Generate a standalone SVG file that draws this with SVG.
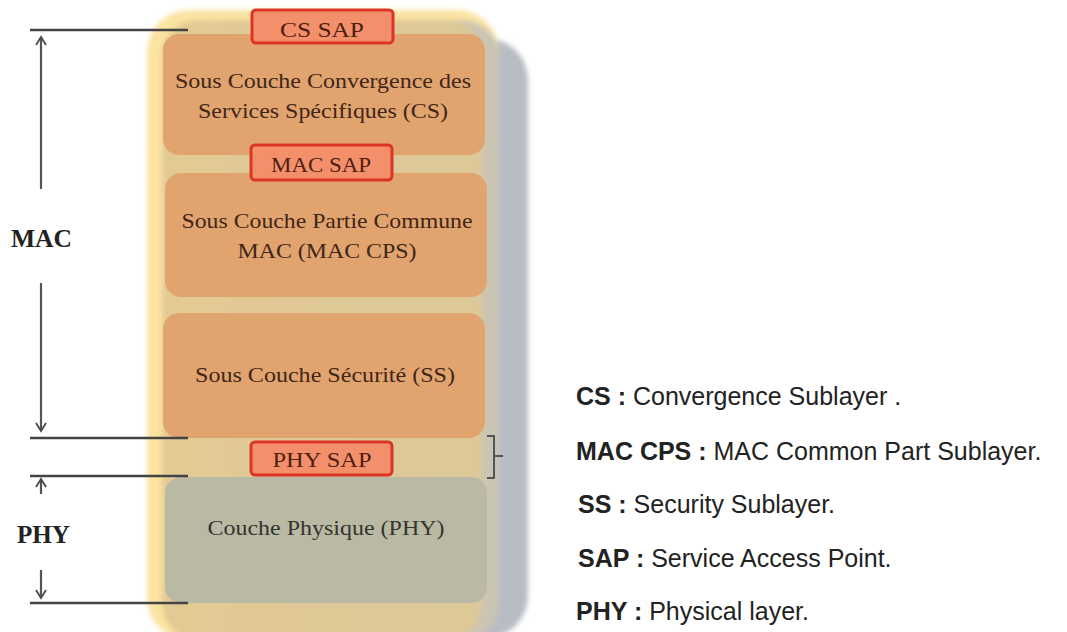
<svg xmlns="http://www.w3.org/2000/svg" width="1067" height="632" viewBox="0 0 1067 632">
  <defs>
    <filter id="soft" x="-5%" y="-5%" width="110%" height="110%">
      <feGaussianBlur stdDeviation="2.5"/>
    </filter>
    <linearGradient id="edge" x1="0" y1="0" x2="1" y2="0">
      <stop offset="0" stop-color="#f3d692"/>
      <stop offset="1" stop-color="#c9c4b4"/>
    </linearGradient>
    <!-- open chevron arrowhead, tip on the line end -->
    <marker id="chev" viewBox="0 0 12 12" refX="10" refY="6" markerWidth="12" markerHeight="12" markerUnits="userSpaceOnUse" orient="auto">
      <path d="M2,1 L10,6 L2,11" fill="none" stroke="#4a4a4a" stroke-width="1.8"/>
    </marker>
    <style>
      .layer { stroke: none; }
      .orange { fill: #e2a46e; }
      .phy { fill: #bab9a3; }
      .sap { fill: #f48f6c; stroke: #dc3526; stroke-width: 3; }
      .serif { font-family: "Liberation Serif", "Times New Roman", serif; text-anchor: middle; }
      .box-text { font-size: 22px; fill: #3f2618; }
      .phy-text { font-size: 22px; fill: #35352f; }
      .sap-text { font-size: 22px; fill: #4e1e10; }
      .side { font-family: "Liberation Serif", "Times New Roman", serif; font-size: 25px; font-weight: bold; fill: #222; }
      .guide { stroke: #444; stroke-width: 2.5; fill: none; }
      .arrow { stroke: #555; stroke-width: 2.2; fill: none; }
      .legend { font-family: "Liberation Sans", Arial, sans-serif; font-size: 25px; fill: #222; }
      .legend tspan.key { font-weight: bold; }
    </style>
  </defs>

  <rect width="1067" height="632" fill="#ffffff"/>

  <!-- stacked container with drop shadow -->
  <g id="container" filter="url(#soft)">
    <rect x="175" y="38" width="353" height="600" rx="42" fill="#b8bcc3"/>
    <rect x="147" y="10" width="352" height="630" rx="42" fill="#fbe3a2"/>
    <rect x="162" y="20" width="337" height="620" rx="36" fill="url(#edge)"/>
    <rect x="162" y="20" width="320" height="620" rx="36" fill="#dfc894" opacity="0.85"/>
  </g>

  <!-- CS sublayer -->
  <g id="cs-layer">
    <rect class="layer orange" x="163" y="34" width="322" height="121" rx="16"/>
    <text class="serif box-text" x="323" y="88" textLength="296" lengthAdjust="spacingAndGlyphs">Sous Couche Convergence des</text>
    <text class="serif box-text" x="323" y="118" textLength="250" lengthAdjust="spacingAndGlyphs">Services Spécifiques (CS)</text>
  </g>

  <!-- MAC common part sublayer -->
  <g id="mac-cps-layer">
    <rect class="layer orange" x="165" y="173" width="322" height="124" rx="16"/>
    <text class="serif box-text" x="327" y="228" textLength="291" lengthAdjust="spacingAndGlyphs">Sous Couche Partie Commune</text>
    <text class="serif box-text" x="327" y="258" textLength="179" lengthAdjust="spacingAndGlyphs">MAC (MAC CPS)</text>
  </g>

  <!-- security sublayer -->
  <g id="ss-layer">
    <rect class="layer orange" x="163" y="313" width="322" height="125" rx="16"/>
    <text class="serif box-text" x="325" y="382" textLength="260" lengthAdjust="spacingAndGlyphs">Sous Couche Sécurité (SS)</text>
  </g>

  <!-- physical layer -->
  <g id="phy-layer">
    <rect class="layer phy" x="165" y="477" width="322" height="126" rx="16"/>
    <text class="serif phy-text" x="326" y="535" textLength="237" lengthAdjust="spacingAndGlyphs">Couche Physique (PHY)</text>
  </g>

  <!-- service access points -->
  <g id="cs-sap">
    <rect class="sap" x="252" y="10" width="141" height="33" rx="4"/>
    <text class="serif sap-text" x="322" y="37" textLength="84" lengthAdjust="spacingAndGlyphs">CS SAP</text>
  </g>
  <g id="mac-sap">
    <rect class="sap" x="251" y="145" width="141" height="35" rx="4"/>
    <text class="serif sap-text" x="321" y="172" textLength="100" lengthAdjust="spacingAndGlyphs">MAC SAP</text>
  </g>
  <g id="phy-sap">
    <rect class="sap" x="251" y="442" width="141" height="33" rx="4"/>
    <text class="serif sap-text" x="322" y="467" textLength="99" lengthAdjust="spacingAndGlyphs">PHY SAP</text>
  </g>

  <!-- extent markers on the left and the SAP bracket -->
  <g id="connectors">
    <line class="guide" x1="30" y1="30" x2="188" y2="30"/>
    <line class="guide" x1="30" y1="438" x2="188" y2="438"/>
    <line class="guide" x1="30" y1="476" x2="188" y2="476"/>
    <line class="guide" x1="30" y1="603" x2="188" y2="603"/>
    <line class="arrow" x1="41" y1="189" x2="41" y2="37" marker-end="url(#chev)"/>
    <line class="arrow" x1="41" y1="283" x2="41" y2="431" marker-end="url(#chev)"/>
    <line class="arrow" x1="41" y1="494" x2="41" y2="479" marker-end="url(#chev)"/>
    <line class="arrow" x1="41" y1="570" x2="41" y2="598" marker-end="url(#chev)"/>
    <path d="M487,436 H494 V478 H487 M494,456 H503" fill="none" stroke="#555" stroke-width="2"/>
  </g>

  <g id="side-labels">
    <text class="side" x="11" y="247" textLength="61" lengthAdjust="spacingAndGlyphs">MAC</text>
    <text class="side" x="17" y="543" textLength="53" lengthAdjust="spacingAndGlyphs">PHY</text>
  </g>

  <!-- abbreviations -->
  <g id="legend">
    <text class="legend" x="576" y="405"><tspan class="key">CS :</tspan> Convergence Sublayer .</text>
    <text class="legend" x="576" y="460"><tspan class="key">MAC CPS :</tspan> MAC Common Part Sublayer.</text>
    <text class="legend" x="578" y="513"><tspan class="key">SS :</tspan> Security Sublayer.</text>
    <text class="legend" x="578" y="567"><tspan class="key">SAP :</tspan> Service Access Point.</text>
    <text class="legend" x="576" y="620"><tspan class="key">PHY :</tspan> Physical layer.</text>
  </g>
</svg>
